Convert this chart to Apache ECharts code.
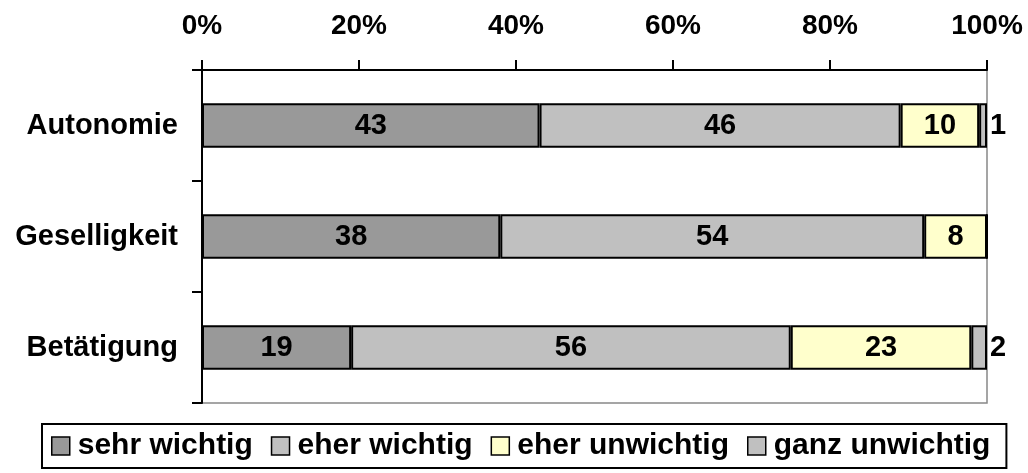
<!DOCTYPE html>
<html>
<head>
<meta charset="utf-8">
<script src="https://cdn.jsdelivr.net/npm/echarts@6/dist/echarts.min.js"></script>
<style>
  html, body { margin: 0; padding: 0; background: #fff; }
  #chart { width: 1028px; height: 473px; }
</style>
</head>
<body>
<div id="chart"></div>
<script>
// Categories, top to bottom
const categories = ['Autonomie', 'Geselligkeit', 'Betätigung'];
// Shares in percent per answer group
const sehrWichtig = [43, 38, 19];
const eherWichtig = [46, 54, 56];
const eherUnwichtig = [10, 8, 23];
const ganzUnwichtig = [1, 0, 2];
const seriesNames = ['sehr wichtig', 'eher wichtig', 'eher unwichtig', 'ganz unwichtig'];
const seriesColors = ['#999999', '#C0C0C0', '#FFFFCC', '#C0C0C0'];

const font = 'Arial, "Liberation Sans", sans-serif';
const textStyle = { fontFamily: font, fontWeight: 'bold', fontSize: 29, color: '#000' };

function makeSeries(name, data, color, labelPos) {
  return {
    name: name,
    type: 'bar',
    stack: 'total',
    data: data,
    barWidth: '40%',
    itemStyle: { color: color, borderColor: '#000', borderWidth: 2 },
    label: {
      show: true,
      position: labelPos,
      distance: 3,
      formatter: p => (p.value ? String(p.value) : ''),
      ...textStyle
    }
  };
}

const chart = echarts.init(document.getElementById('chart'), null, { renderer: 'canvas' });
chart.setOption({
  animation: false,
  textStyle: { fontFamily: font },
  grid: {
    left: 202, right: 41, top: 70, bottom: 70,
    show: true, borderColor: '#888', borderWidth: 1.5, backgroundColor: 'transparent'
  },
  xAxis: {
    type: 'value',
    position: 'top',
    min: 0, max: 100, interval: 20,
    axisLine: { show: true, lineStyle: { color: '#000', width: 2 } },
    axisTick: { show: true, length: 10, lineStyle: { color: '#000', width: 2 } },
    splitLine: { show: false },
    axisLabel: { formatter: '{value}%', margin: 30, ...textStyle, fontSize: 28 }
  },
  yAxis: {
    type: 'category',
    inverse: true,
    data: categories,
    axisLine: { show: true, lineStyle: { color: '#000', width: 2 } },
    axisTick: { show: true, length: 10, lineStyle: { color: '#000', width: 2 } },
    axisLabel: { margin: 24, ...textStyle }
  },
  legend: {
    top: 424,
    left: 42,
    data: seriesNames,
    icon: 'rect',
    itemWidth: 18,
    itemHeight: 18,
    itemGap: 18,
    padding: [7, 16, 7, 9],
    borderColor: '#000',
    borderWidth: 2,
    itemStyle: { borderColor: '#000', borderWidth: 1.5 },
    textStyle: { ...textStyle, fontSize: 30, padding: [0, 0, 0, 3] }
  },
  series: [
    makeSeries(seriesNames[0], sehrWichtig, seriesColors[0], 'inside'),
    makeSeries(seriesNames[1], eherWichtig, seriesColors[1], 'inside'),
    makeSeries(seriesNames[2], eherUnwichtig, seriesColors[2], 'inside'),
    makeSeries(seriesNames[3], ganzUnwichtig, seriesColors[3], 'right')
  ]
});
</script>
</body>
</html>
